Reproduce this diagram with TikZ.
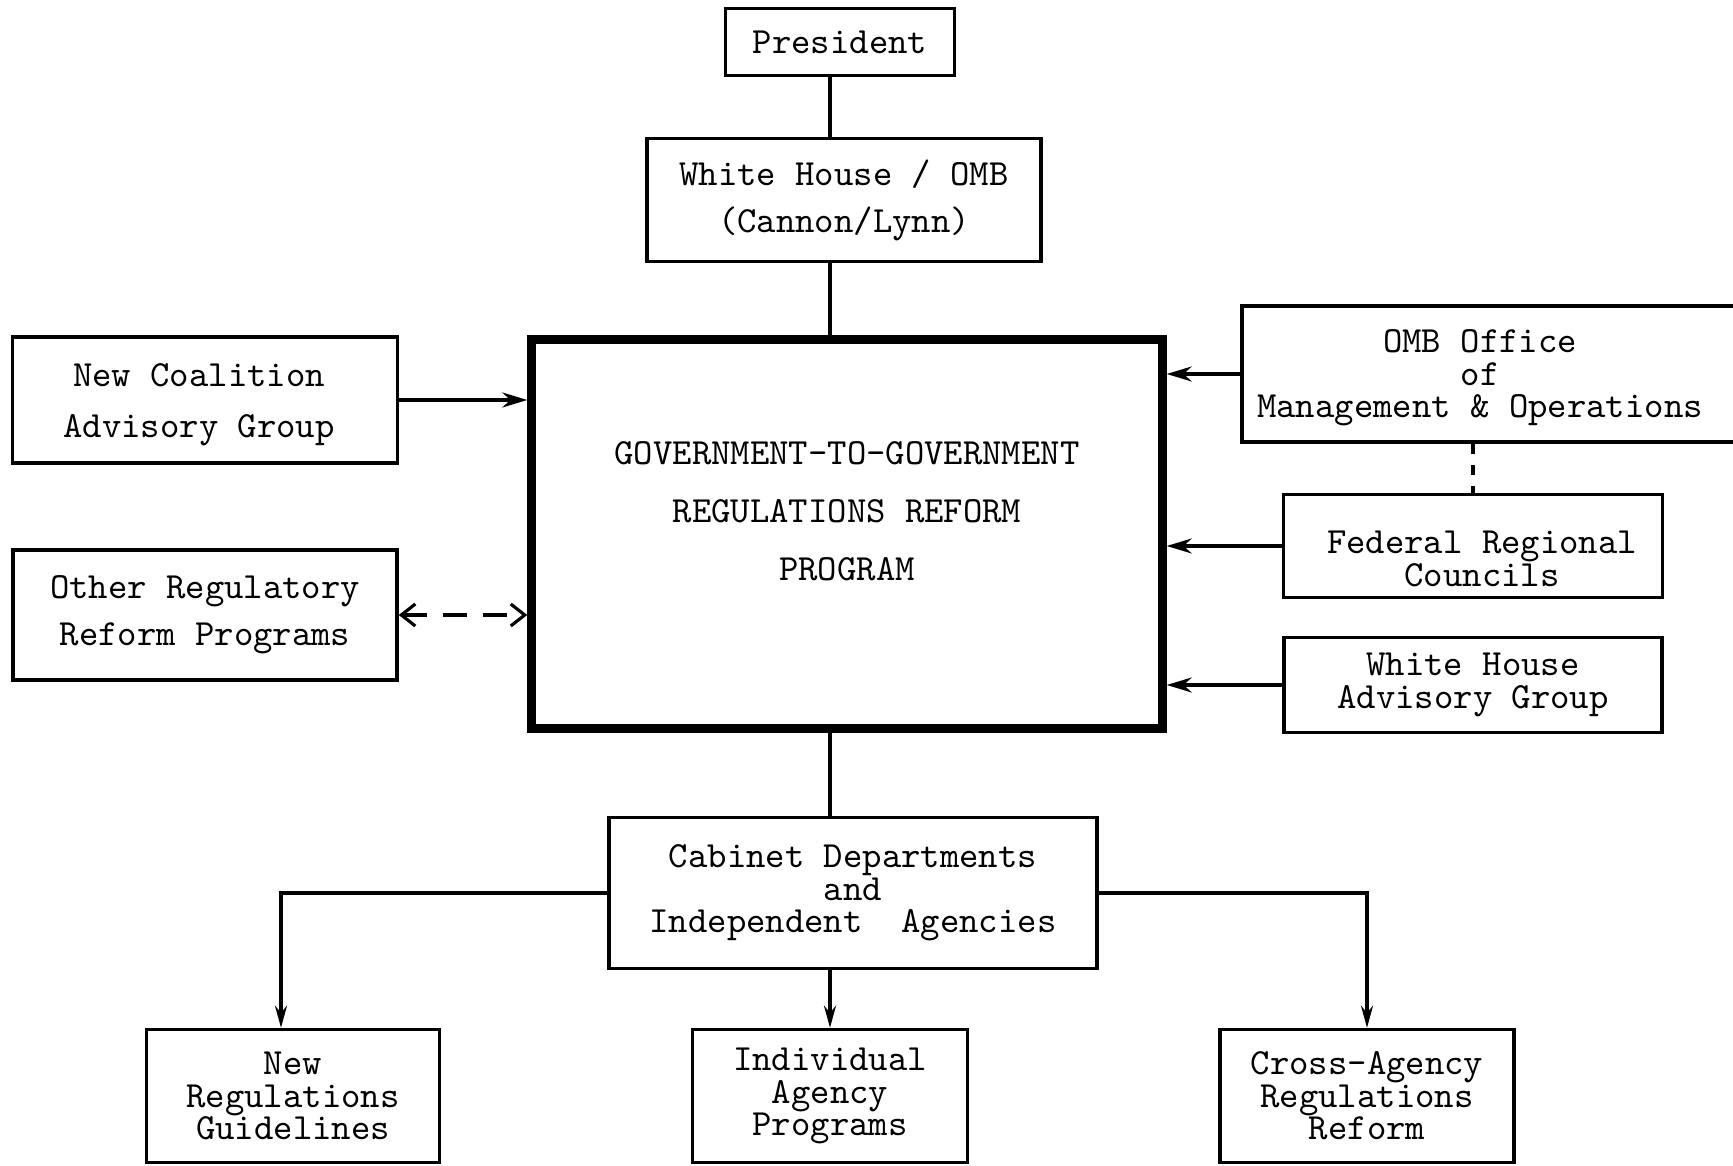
\documentclass[tikz,border=0pt]{standalone}
\usepackage{fontspec}
\usetikzlibrary{arrows.meta,positioning}
\tikzset{
  orgbox/.style={draw, line width=1pt, inner sep=0pt},
  orgtext/.style={align=center, inner sep=0pt, font=\ttfamily\fontsize{10.5pt}{#1}\selectfont},
  orgtext/.default=9.3pt,
  orgline/.style={line width=0.9pt},
  inarrow/.style={-{Stealth[length=2.5mm,width=1.5mm]}, line width=0.9pt},
  linkarrow/.style={{Straight Barb[length=1.4mm,width=2.2mm]}-{Straight Barb[length=1.4mm,width=2.2mm]}, line width=0.9pt, dash pattern=on 2.4mm off 1.6mm},
  downarrow/.style={-{Stealth[length=2.2mm,width=1.2mm]}, line width=0.9pt}
}

\begin{document}
\begin{tikzpicture}[x=0.1mm, y=-0.1mm]
    \useasboundingbox (0,0) rectangle (1733,1166);
    % top of the chain
    \node[orgbox, orgtext, minimum width=22.9mm, minimum height=6.7mm] (pres) at (840,42) {President};
    \node[orgbox, orgtext=13.4pt, minimum width=39.4mm, minimum height=12.3mm] (whomb) at (844,200) {White House / OMB\\(Cannon/Lynn)};
    % the program itself
    \node[draw, line width=2.4pt, minimum width=63.1mm, minimum height=38.9mm] (prog) at (847,534) {};
    \node[orgtext=16.5pt] (progtext) at (847,511) {GOVERNMENT-TO-GOVERNMENT\\REGULATIONS REFORM\\PROGRAM};
    % left side
    \node[orgbox, minimum width=38.5mm, minimum height=12.6mm] (coal) at (205,400) {};
    \node[orgtext=14.5pt] (coaltext) at (199,405) {New Coalition\\Advisory Group};
    \node[orgbox, orgtext=13.4pt, minimum width=38.4mm, minimum height=13mm] (other) at (205,615) {Other Regulatory\\Reform Programs};
    % right side
    \node[orgbox, minimum width=51.8mm, minimum height=13.6mm] (omb) at (1501,374) {};
    \node[orgtext] (ombtext) at (1480,378) {OMB Office\\of\\Management \& Operations};
    \node[orgbox, minimum width=37.9mm, minimum height=10.3mm] (frc) at (1473,546) {};
    \node[orgtext] (frctext) at (1482,559) {Federal Regional\\Councils};
    \node[orgbox, orgtext, minimum width=37.8mm, minimum height=9.5mm] (wha) at (1473,685) {White House\\Advisory Group};
    % below
    \node[orgbox, orgtext, minimum width=48.8mm, minimum height=15.1mm] (cab) at (853,893) {Cabinet Departments\\and\\Independent\ \ Agencies};
    \node[orgbox, orgtext, minimum width=29.3mm, minimum height=13.3mm] (nrg) at (293,1096) {New\\Regulations\\Guidelines};
    \node[orgbox, orgtext, minimum width=27.5mm, minimum height=13.3mm] (iap) at (830,1096) {Individual\\Agency\\Programs};
    \node[orgbox, orgtext, minimum width=29.4mm, minimum height=13.3mm] (carr) at (1367,1096) {Cross-Agency\\Regulations\\Reform};

    \draw[orgline] (pres.south -| iap.north) -- (whomb.north -| iap.north);
    \draw[orgline] (whomb.south -| iap.north) -- (prog.north -| iap.north);
    \draw[orgline] (prog.south -| iap.north) -- (cab.north -| iap.north);
    \draw[inarrow] (coal.east) -- (prog.west |- coal.east);
    \draw[linkarrow] (other.east) -- (prog.west |- other.east);
    \draw[inarrow] (omb.west) -- (prog.east |- omb.west);
    \draw[inarrow] (frc.west) -- (prog.east |- frc.west);
    \draw[inarrow] (wha.west) -- (prog.east |- wha.west);
    \draw[orgline, dashed] (omb.south -| frc.north) -- (frc.north);
    \draw[downarrow] (cab.west) -| ([xshift=-1.2mm]nrg.north);
    \draw[downarrow] (cab.south -| iap.north) -- (iap.north);
    \draw[downarrow] (cab.east) -| (carr.north);
  \end{tikzpicture}
\end{document}
